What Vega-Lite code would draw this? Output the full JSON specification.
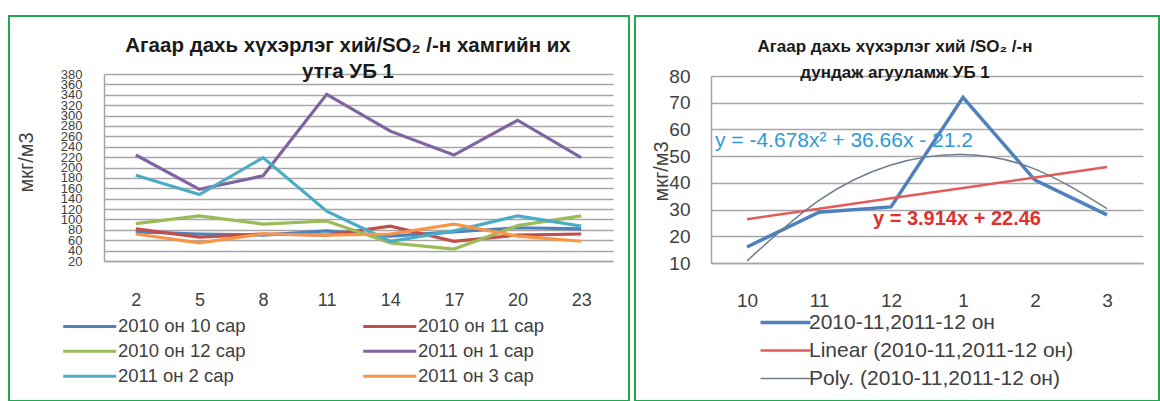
{
  "$schema": "https://vega.github.io/schema/vega-lite/v6.json",
  "background": "white",
  "padding": {"left": 8, "top": 15, "right": 0, "bottom": 0},
  "spacing": 4,
  "resolve": {
    "scale": {"color": "independent", "strokeWidth": "independent"},
    "legend": {"color": "independent", "strokeWidth": "independent"}
  },
  "config": {
    "font": "Liberation Sans",
    "view": {"stroke": "#1FA84F", "strokeWidth": 2, "fill": "white"},
    "axis": {"labelFont": "Liberation Sans", "titleFont": "Liberation Sans", "labelColor": "#404040", "titleColor": "#404040", "titleFontWeight": "normal"},
    "legend": {"labelFont": "Liberation Sans", "labelColor": "#404040", "labelLimit": 400},
    "title": {"font": "Liberation Sans", "color": "#1A1A1A"}
  },
  "datasets": {
    "daily": [
      {"series": "2010 он 10 сар", "day": 2, "value": 76}, {"series": "2010 он 10 сар", "day": 5, "value": 72},
      {"series": "2010 он 10 сар", "day": 8, "value": 70}, {"series": "2010 он 10 сар", "day": 11, "value": 78},
      {"series": "2010 он 10 сар", "day": 14, "value": 68}, {"series": "2010 он 10 сар", "day": 17, "value": 76},
      {"series": "2010 он 10 сар", "day": 20, "value": 84}, {"series": "2010 он 10 сар", "day": 23, "value": 82},
      {"series": "2010 он 11 сар", "day": 2, "value": 82}, {"series": "2010 он 11 сар", "day": 5, "value": 66},
      {"series": "2010 он 11 сар", "day": 8, "value": 72}, {"series": "2010 он 11 сар", "day": 11, "value": 70},
      {"series": "2010 он 11 сар", "day": 14, "value": 87}, {"series": "2010 он 11 сар", "day": 17, "value": 58},
      {"series": "2010 он 11 сар", "day": 20, "value": 70}, {"series": "2010 он 11 сар", "day": 23, "value": 72},
      {"series": "2010 он 12 сар", "day": 2, "value": 92}, {"series": "2010 он 12 сар", "day": 5, "value": 107},
      {"series": "2010 он 12 сар", "day": 8, "value": 91}, {"series": "2010 он 12 сар", "day": 11, "value": 97},
      {"series": "2010 он 12 сар", "day": 14, "value": 55}, {"series": "2010 он 12 сар", "day": 17, "value": 43},
      {"series": "2010 он 12 сар", "day": 20, "value": 88}, {"series": "2010 он 12 сар", "day": 23, "value": 107},
      {"series": "2011 он 1 сар", "day": 2, "value": 224}, {"series": "2011 он 1 сар", "day": 5, "value": 158},
      {"series": "2011 он 1 сар", "day": 8, "value": 184}, {"series": "2011 он 1 сар", "day": 11, "value": 341},
      {"series": "2011 он 1 сар", "day": 14, "value": 270}, {"series": "2011 он 1 сар", "day": 17, "value": 224},
      {"series": "2011 он 1 сар", "day": 20, "value": 291}, {"series": "2011 он 1 сар", "day": 23, "value": 219},
      {"series": "2011 он 2 сар", "day": 2, "value": 185}, {"series": "2011 он 2 сар", "day": 5, "value": 148},
      {"series": "2011 он 2 сар", "day": 8, "value": 219}, {"series": "2011 он 2 сар", "day": 11, "value": 116},
      {"series": "2011 он 2 сар", "day": 14, "value": 58}, {"series": "2011 он 2 сар", "day": 17, "value": 78},
      {"series": "2011 он 2 сар", "day": 20, "value": 107}, {"series": "2011 он 2 сар", "day": 23, "value": 87},
      {"series": "2011 он 3 сар", "day": 2, "value": 72}, {"series": "2011 он 3 сар", "day": 5, "value": 55},
      {"series": "2011 он 3 сар", "day": 8, "value": 72}, {"series": "2011 он 3 сар", "day": 11, "value": 70},
      {"series": "2011 он 3 сар", "day": 14, "value": 72}, {"series": "2011 он 3 сар", "day": 17, "value": 91},
      {"series": "2011 он 3 сар", "day": 20, "value": 68}, {"series": "2011 он 3 сар", "day": 23, "value": 58}
    ],
    "monthly": [
      {"series": "2010-11,2011-12 он", "m": "10", "idx": 1, "v": 16},
      {"series": "2010-11,2011-12 он", "m": "11", "idx": 2, "v": 29},
      {"series": "2010-11,2011-12 он", "m": "12", "idx": 3, "v": 31},
      {"series": "2010-11,2011-12 он", "m": "1", "idx": 4, "v": 72},
      {"series": "2010-11,2011-12 он", "m": "2", "idx": 5, "v": 41},
      {"series": "2010-11,2011-12 он", "m": "3", "idx": 6, "v": 28},
      {"series": "Linear (2010-11,2011-12 он)", "m": "10", "idx": 1, "v": 26.374},
      {"series": "Linear (2010-11,2011-12 он)", "m": "11", "idx": 2, "v": 30.288},
      {"series": "Linear (2010-11,2011-12 он)", "m": "12", "idx": 3, "v": 34.202},
      {"series": "Linear (2010-11,2011-12 он)", "m": "1", "idx": 4, "v": 38.116},
      {"series": "Linear (2010-11,2011-12 он)", "m": "2", "idx": 5, "v": 42.03},
      {"series": "Linear (2010-11,2011-12 он)", "m": "3", "idx": 6, "v": 45.944},
      {"series": "Poly. (2010-11,2011-12 он)", "m": "10", "idx": 1, "v": 10.782},
      {"series": "Poly. (2010-11,2011-12 он)", "m": "11", "idx": 2, "v": 33.408},
      {"series": "Poly. (2010-11,2011-12 он)", "m": "12", "idx": 3, "v": 46.678},
      {"series": "Poly. (2010-11,2011-12 он)", "m": "1", "idx": 4, "v": 50.592},
      {"series": "Poly. (2010-11,2011-12 он)", "m": "2", "idx": 5, "v": 45.15},
      {"series": "Poly. (2010-11,2011-12 он)", "m": "3", "idx": 6, "v": 30.352}
    ],
    "equations": [
      {"kind": "poly", "m": "10", "v": 55.7, "label": "y = -4.678x² + 36.66x - 21.2"},
      {"kind": "linear", "m": "12", "v": 26.5, "label": "y = 3.914x + 22.46"}
    ]
  },
  "hconcat": [
    {
      "width": 620,
      "height": 385,
      "title": {
        "text": ["Агаар дахь хүхэрлэг хий/SO₂ /-н хамгийн их", "утга  УБ 1"],
        "fontSize": 20.5, "fontWeight": "bold", "lineHeight": 26,
        "anchor": "middle", "frame": "group", "baseline": "top", "offset": -66, "dx": 29
      },
      "data": {"name": "daily"},
      "mark": {"type": "line", "strokeWidth": 3.2},
      "encoding": {
        "x": {
          "field": "day", "type": "ordinal",
          "scale": {"type": "point", "range": [95, 604], "padding": 0.5},
          "axis": {"title": null, "orient": "bottom", "offset": -140, "labelAngle": 0, "labelFontSize": 18,
                   "labelPadding": 30, "ticks": false, "grid": false, "domainColor": "#A6A6A6", "domainWidth": 1.5}
        },
        "y": {
          "field": "value", "type": "quantitative",
          "scale": {"domain": [20, 380], "range": [245, 58], "nice": false, "zero": false},
          "axis": {"title": "мкг/м3", "offset": -95,
                   "values": [20, 40, 60, 80, 100, 120, 140, 160, 180, 200, 220, 240, 260, 280, 300, 320, 340, 360, 380],
                   "labelFontSize": 13, "labelOverlap": false, "labelPadding": 22, "ticks": false,
                   "domainColor": "#A6A6A6", "domainWidth": 1.5, "gridColor": "#A6A6A6", "gridWidth": 1.5,
                   "titleFontSize": 20, "titleX": -78, "titleY": 146, "titleAngle": -90,
                   "titleAlign": "center", "titleBaseline": "middle"}
        },
        "color": {
          "field": "series", "type": "nominal",
          "scale": {
            "domain": ["2010 он 10 сар", "2010 он 11 сар", "2010 он 12 сар", "2011 он 1 сар", "2011 он 2 сар", "2011 он 3 сар"],
            "range": ["#4F81BD", "#C0504D", "#9BBB59", "#8064A2", "#4BACC6", "#F79646"]
          },
          "legend": {"title": null, "orient": "none", "legendX": 54, "legendY": 301,
                     "direction": "horizontal", "columns": 2,
                     "symbolType": "M-5.3,0L5.3,0", "symbolSize": 100, "symbolStrokeWidth": 3,
                     "symbolOffset": 17.5, "labelOffset": 19,
                     "labelFontSize": 18.5, "rowPadding": 6, "columnPadding": 111}
        }
      }
    },
    {
      "width": 524,
      "height": 385,
      "title": {
        "text": ["Агаар дахь хүхэрлэг хий /SO₂ /-н", "дундаж  агууламж  УБ 1"],
        "fontSize": 17, "fontWeight": "bold", "lineHeight": 26,
        "anchor": "middle", "frame": "group", "baseline": "top", "offset": -66, "dx": -2
      },
      "encoding": {
        "x": {
          "field": "m", "type": "ordinal", "sort": ["10", "11", "12", "1", "2", "3"],
          "scale": {"type": "point", "domain": ["10", "11", "12", "1", "2", "3"], "range": [76, 508], "padding": 0.5},
          "axis": {"title": null, "orient": "bottom", "offset": -138, "labelAngle": 0, "labelFontSize": 19,
                   "labelPadding": 28, "ticks": false, "grid": false, "domainColor": "#A6A6A6", "domainWidth": 1.5}
        },
        "y": {
          "field": "v", "type": "quantitative",
          "scale": {"domain": [10, 80], "range": [247, 60], "nice": false, "zero": false},
          "axis": {"title": "мкг/м3", "offset": -76, "values": [10, 20, 30, 40, 50, 60, 70, 80],
                   "labelFontSize": 19, "labelPadding": 21, "ticks": false,
                   "domainColor": "#A6A6A6", "domainWidth": 1.5, "gridColor": "#A6A6A6", "gridWidth": 1.5,
                   "titleFontSize": 20, "titleX": -50, "titleY": 155, "titleAngle": -90,
                   "titleAlign": "center", "titleBaseline": "middle"}
        }
      },
      "layer": [
        {
          "data": {"name": "monthly"},
          "transform": [{"filter": "datum.series !== 'Poly. (2010-11,2011-12 он)'"}],
          "mark": {"type": "line"},
          "encoding": {
            "order": {"field": "idx", "type": "quantitative"},
            "color": {
              "field": "series", "type": "nominal",
              "scale": {
                "domain": ["2010-11,2011-12 он", "Linear (2010-11,2011-12 он)", "Poly. (2010-11,2011-12 он)"],
                "range": ["#4F81BD", "#E35B5B", "#6E7C8C"]
              },
              "legend": {"title": null, "orient": "none", "legendX": 125, "legendY": 296,
                         "symbolType": "M-5,0L5,0", "symbolSize": 100,
                         "symbolOffset": 15, "labelOffset": 13,
                         "labelFontSize": 21, "rowPadding": 6}
            },
            "strokeWidth": {
              "field": "series", "type": "ordinal",
              "scale": {
                "domain": ["2010-11,2011-12 он", "Linear (2010-11,2011-12 он)", "Poly. (2010-11,2011-12 он)"],
                "range": [3.5, 1.5, 1.2]
              },
              "legend": {"title": null, "orient": "none", "legendX": 125, "legendY": 296,
                         "symbolType": "M-5,0L5,0", "symbolSize": 100,
                         "symbolOffset": 15, "labelOffset": 13,
                         "labelFontSize": 21, "rowPadding": 6}
            }
          }
        },
        {
          "data": {"name": "monthly"},
          "transform": [{"filter": "datum.series === 'Poly. (2010-11,2011-12 он)'"}],
          "mark": {"type": "line", "interpolate": "natural"},
          "encoding": {
            "order": {"field": "idx", "type": "quantitative"},
            "color": {"field": "series", "type": "nominal"},
            "strokeWidth": {"field": "series", "type": "ordinal"}
          }
        },
        {
          "data": {"name": "equations"},
          "transform": [{"filter": "datum.kind === 'poly'"}],
          "mark": {"type": "text", "align": "left", "baseline": "middle", "dx": -32, "fontSize": 21, "color": "#2E9AD6"},
          "encoding": {"text": {"field": "label"}}
        },
        {
          "data": {"name": "equations"},
          "transform": [{"filter": "datum.kind === 'linear'"}],
          "mark": {"type": "text", "align": "left", "baseline": "middle", "dx": -18, "fontSize": 20, "fontWeight": "bold", "color": "#E0302F"},
          "encoding": {"text": {"field": "label"}}
        }
      ]
    }
  ]
}
